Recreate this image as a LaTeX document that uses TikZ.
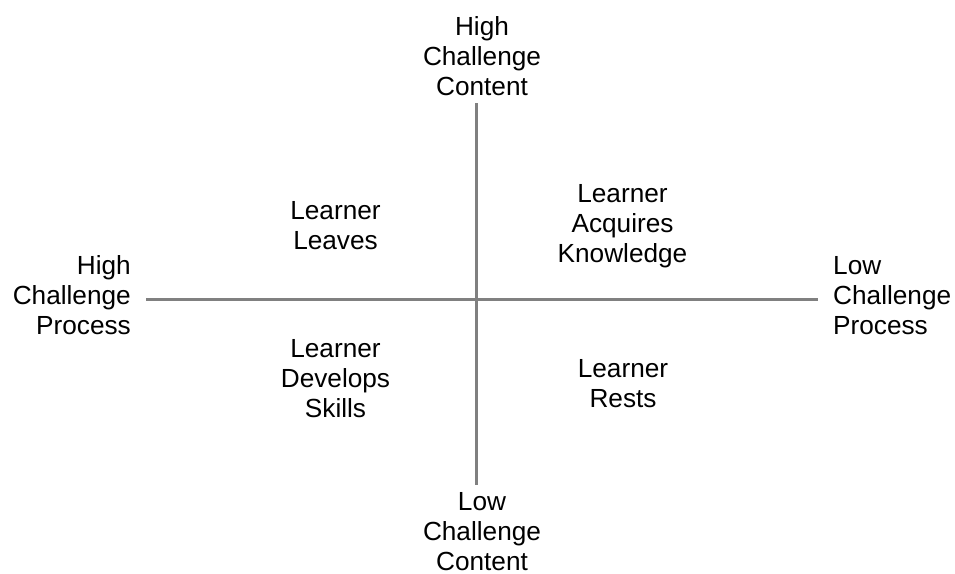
\documentclass[tikz,border=0pt]{standalone}
\usepackage{fontspec}
\setmainfont{Liberation Sans}
\definecolor{axisgray}{HTML}{808080}
\tikzset{
  axis/.style={draw=axisgray, line width=3pt},
  lbl/.style={inner sep=0pt, font=\fontsize{26.2pt}{30pt}\selectfont}
}
\newcommand{\ctext}[1]{\begin{tabular}[t]{@{}c@{}}#1\end{tabular}}
\newcommand{\rtext}[1]{\begin{tabular}[t]{@{}r@{}}#1\end{tabular}}
\newcommand{\ltext}[1]{\begin{tabular}[t]{@{}l@{}}#1\end{tabular}}
\begin{document}
\begin{tikzpicture}[x=1pt,y=-1pt]
\useasboundingbox (0,0) rectangle (955,573);
\coordinate (axL) at (146,299.5);
\coordinate (axR) at (818,299.5);
\coordinate (axT) at (476.5,103);
\coordinate (axB) at (476.5,485);
\draw[axis] (axL) -- (axR);
\draw[axis] (axT) -- (axB);
\node[lbl, anchor=base] (top) at (482,35) {\ctext{High\\Challenge\\Content}};
\node[lbl, anchor=base] (bot) at (482,510) {\ctext{Low\\Challenge\\Content}};
\node[lbl, anchor=base east] (left) at (131,274) {\rtext{High\\Challenge\\Process}};
\node[lbl, anchor=base west] (right) at (833,274) {\ltext{Low\\Challenge\\Process}};
\node[lbl, anchor=base] (q1) at (335.5,219) {\ctext{Learner\\Leaves}};
\node[lbl, anchor=base] (q2) at (622.5,202) {\ctext{Learner\\Acquires\\Knowledge}};
\node[lbl, anchor=base] (q3) at (335.5,357) {\ctext{Learner\\Develops\\Skills}};
\node[lbl, anchor=base] (q4) at (623,377) {\ctext{Learner\\Rests}};
\end{tikzpicture}
\end{document}
